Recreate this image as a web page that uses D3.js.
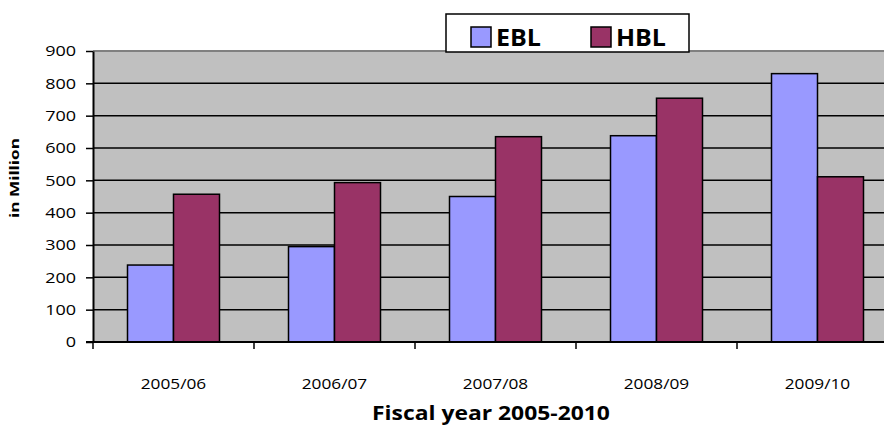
<!DOCTYPE html>
<html>
<head>
<meta charset="utf-8">
<script src="https://cdn.jsdelivr.net/npm/d3@7"></script>
<style>
  body { margin: 0; background: #fff; }
  svg { display: block; }
  text { font-family: "Open Sans", "Liberation Sans", sans-serif; fill: #000; }
</style>
</head>
<body>
<div id="chart"></div>
<script>
// data
const years = ["2005/06", "2006/07", "2007/08", "2008/09", "2009/10"];
const seriesNames = ["EBL", "HBL"];
const eblValues = [238, 295, 450, 638, 830];
const hblValues = [457, 493, 635, 754, 511];
const yTicks = [0, 100, 200, 300, 400, 500, 600, 700, 800, 900];

const colors = { EBL: "#9999FF", HBL: "#993366" };

const W = 884, H = 432;
const plot = { left: 93, top: 51, bottom: 342, right: 898 };

const svg = d3.select("#chart").append("svg")
    .attr("width", W).attr("height", H);

// the original picture is stretched sideways, so the glyphs are too
function stretch(sel, sx) {
    sel.each(function () {
        const t = d3.select(this);
        const x = +t.attr("x") || 0;
        t.attr("x", x / sx).attr("transform", `scale(${sx},1)`);
    });
}
// stretch a text to a given width
function fitWidth(sel, w) {
    sel.each(function () {
        const len = this.getComputedTextLength();
        stretch(d3.select(this), w / len);
    });
}

const x0 = d3.scaleBand().domain(years).range([plot.left, plot.right]).padding(0);
const x1 = d3.scaleBand().domain(seriesNames).range([0, x0.bandwidth()])
    .paddingInner(0).paddingOuter(0.75);
const y = d3.scaleLinear().domain([0, 900]).range([plot.bottom, plot.top]);

// plot area
svg.append("rect")
    .attr("x", plot.left).attr("y", plot.top)
    .attr("width", plot.right - plot.left).attr("height", plot.bottom - plot.top)
    .attr("fill", "#C0C0C0");

// gridlines
svg.append("g").selectAll("line")
    .data(yTicks.filter(d => d > 0 && d < 900))
    .enter().append("line")
    .attr("x1", plot.left).attr("x2", plot.right)
    .attr("y1", d => y(d)).attr("y2", d => y(d))
    .attr("stroke", "#000").attr("stroke-width", 1.5);

// top border
svg.append("line")
    .attr("x1", plot.left).attr("x2", plot.right)
    .attr("y1", plot.top).attr("y2", plot.top)
    .attr("stroke", "#808080").attr("stroke-width", 2);

// bars
const rows = years.map((yr, i) => ({ year: yr, EBL: eblValues[i], HBL: hblValues[i] }));
svg.append("g").selectAll("g")
    .data(rows).enter().append("g")
    .attr("transform", d => `translate(${x0(d.year)},0)`)
    .selectAll("rect")
    .data(d => seriesNames.map(k => ({ key: k, value: d[k] })))
    .enter().append("rect")
    .attr("x", d => x1(d.key))
    .attr("y", d => y(d.value))
    .attr("width", x1.bandwidth())
    .attr("height", d => y(0) - y(d.value))
    .attr("fill", d => colors[d.key])
    .attr("stroke", "#000").attr("stroke-width", 1.5);

// y axis
const yAxis = svg.append("g")
    .attr("transform", `translate(${plot.left},0)`)
    .call(d3.axisLeft(y).tickValues(yTicks).tickSize(7).tickPadding(10).tickSizeOuter(0));
yAxis.select(".domain").attr("stroke", "#000").attr("stroke-width", 2);
yAxis.selectAll(".tick line").attr("stroke", "#000").attr("stroke-width", 1.5);
yAxis.selectAll(".tick text")
    .attr("font-family", "Open Sans, sans-serif").attr("font-size", 15).attr("fill", "#000");
stretch(yAxis.selectAll(".tick text"), 1.2);

// x axis: ticks on category boundaries
const xAxisG = svg.append("g");
xAxisG.append("line")
    .attr("x1", plot.left - 7).attr("x2", plot.right)
    .attr("y1", plot.bottom).attr("y2", plot.bottom)
    .attr("stroke", "#000").attr("stroke-width", 2);
xAxisG.selectAll(".xtick")
    .data(years.map(d => x0(d)))
    .enter().append("line")
    .attr("x1", d => d).attr("x2", d => d)
    .attr("y1", plot.bottom).attr("y2", plot.bottom + 7)
    .attr("stroke", "#000").attr("stroke-width", 1.5);
const xLabels = xAxisG.selectAll(".xlabel")
    .data(years).enter().append("text")
    .attr("x", d => x0(d) + x0.bandwidth() / 2)
    .attr("y", 389)
    .attr("text-anchor", "middle")
    .attr("font-size", 15)
    .text(d => d);
stretch(xLabels, 1.15);

// axis titles
const xTitle = svg.append("text")
    .attr("x", 491).attr("y", 420)
    .attr("text-anchor", "middle")
    .attr("font-size", 19).attr("font-weight", "bold")
    .text("Fiscal year 2005-2010");
fitWidth(xTitle, 238);

svg.append("text")
    .attr("transform", "translate(19,178) rotate(-90)")
    .attr("text-anchor", "middle")
    .attr("font-size", 13).attr("font-weight", "bold")
    .attr("textLength", 80).attr("lengthAdjust", "spacingAndGlyphs")
    .text("in Million");

// legend
const legend = svg.append("g");
legend.append("rect")
    .attr("x", 446).attr("y", 14).attr("width", 243).attr("height", 38)
    .attr("fill", "#fff").attr("stroke", "#000").attr("stroke-width", 1.5);
const legendX = { EBL: 471, HBL: 591 };
const legendTextW = { EBL: 45, HBL: 50 };
seriesNames.forEach(k => {
    legend.append("rect")
        .attr("x", legendX[k]).attr("y", 27).attr("width", 20).attr("height", 20)
        .attr("fill", colors[k]).attr("stroke", "#000").attr("stroke-width", 1.5);
    const t = legend.append("text")
        .attr("x", legendX[k] + 25).attr("y", 46.5)
        .attr("font-size", 24).attr("font-weight", "bold")
        .text(k);
    fitWidth(t, legendTextW[k]);
});
</script>
</body>
</html>
